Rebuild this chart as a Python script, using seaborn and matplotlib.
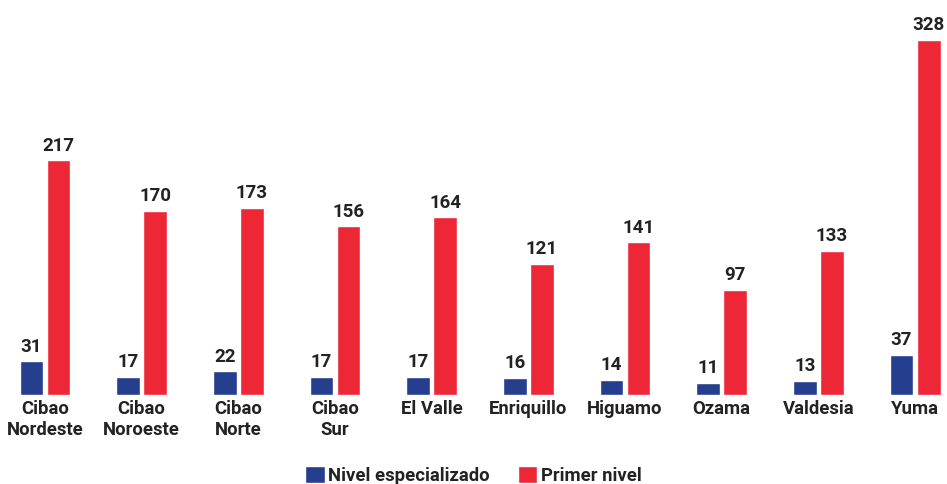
import matplotlib
matplotlib.use("Agg")
import matplotlib.pyplot as plt
import seaborn as sns
import pandas as pd

# data
regiones = ["Cibao\nNordeste", "Cibao\nNoroeste", "Cibao\nNorte", "Cibao\nSur", "El Valle",
            "Enriquillo", "Higuamo", "Ozama", "Valdesia", "Yuma"]
especializado = [31, 17, 22, 17, 17, 16, 14, 11, 13, 37]
primer_nivel = [217, 170, 173, 156, 164, 121, 141, 97, 133, 328]
series = ["Nivel especializado", "Primer nivel"]
colores = ["#253E8E", "#EE2737"]

df = pd.DataFrame({
    "region": regiones * 2,
    "nivel": [series[0]] * len(regiones) + [series[1]] * len(regiones),
    "valor": especializado + primer_nivel,
})

sns.set_theme(style="white")
plt.rcParams["font.family"] = ["Roboto", "DejaVu Sans"]
plt.rcParams["font.weight"] = "bold"

fig = plt.figure(figsize=(9.47, 4.84), dpi=100)
ax = fig.add_axes([0, 0.184, 1, 0.816])

sns.barplot(data=df, x="region", y="valor", hue="nivel", palette=colores,
            saturation=1, width=0.56, gap=0.12, ax=ax, legend=True)

for cont in ax.containers:
    ax.bar_label(cont, fmt="%d", padding=4, fontsize=13.5, fontweight="bold", color="#222222")

ax.set_xlim(-0.465, 9.33)
ax.set_ylim(0, 365)
ax.set_xlabel("")
ax.set_ylabel("")
ax.set_yticks([])
ax.tick_params(axis="x", length=0, pad=4)
for lbl in ax.get_xticklabels():
    lbl.set_fontsize(13.3)
    lbl.set_fontweight("bold")
    lbl.set_color("#222222")
    lbl.set_linespacing(1.2)
sns.despine(ax=ax, left=True, bottom=True)

ax.legend(loc="lower center", bbox_to_anchor=(0.5, -0.27), ncol=2, frameon=False,
          handlelength=1.05, handleheight=1.05, handletextpad=0.2, columnspacing=1.5,
          prop={"size": 13.3, "weight": "bold"}, labelcolor="#222222")

fig.savefig("out.png", dpi=100)
